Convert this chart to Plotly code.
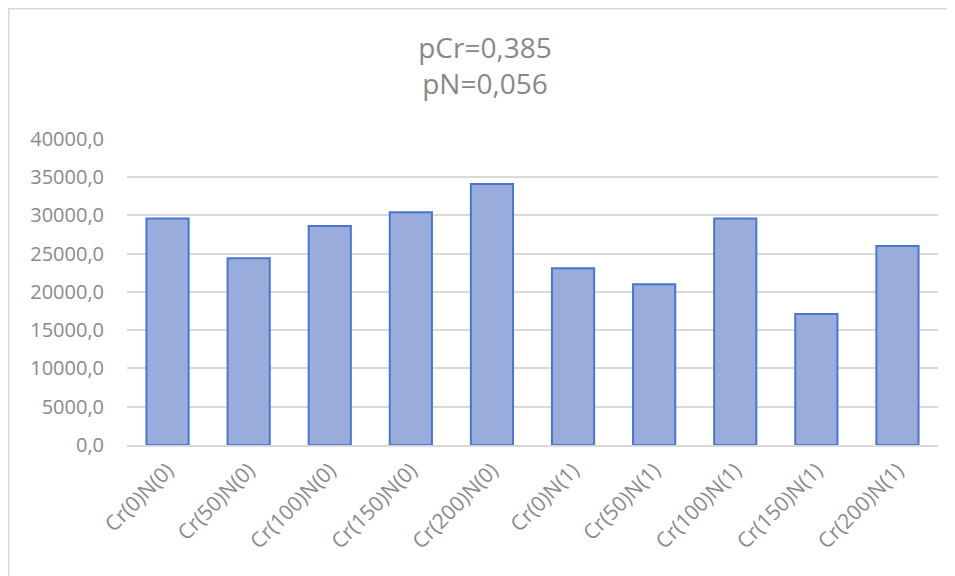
import plotly.graph_objects as go

categories = ["Cr(0)N(0)", "Cr(50)N(0)", "Cr(100)N(0)", "Cr(150)N(0)", "Cr(200)N(0)",
              "Cr(0)N(1)", "Cr(50)N(1)", "Cr(100)N(1)", "Cr(150)N(1)", "Cr(200)N(1)"]
values = [29600, 24400, 28600, 30400, 34100, 23100, 21000, 29600, 17100, 26000]
tick_vals = [0, 5000, 10000, 15000, 20000, 25000, 30000, 35000, 40000]
tick_text = ["0,0", "5000,0", "10000,0", "15000,0", "20000,0",
             "25000,0", "30000,0", "35000,0", "40000,0"]
title_lines = ["pCr=0,385", "pN=0,056"]

W, H = 947, 568
L, T = 119, 130
PW, PH = 811, 307

fig = go.Figure()
fig.add_trace(go.Bar(
    x=categories, y=values,
    marker=dict(color="#99acdb", line=dict(color="#4a76cd", width=2)),
))

fig.update_layout(
    width=W, height=H,
    margin=dict(l=L, r=W - L - PW, t=T, b=H - T - PH, pad=0),
    paper_bgcolor="white", plot_bgcolor="white",
    font=dict(family="Open Sans", color="#888888"),
    showlegend=False,
    bargap=0.48,
    title=dict(text="<br>".join(title_lines), x=(485 - 8) / W, xanchor="center",
               xref="container", yref="container", y=1 - 50 / H, yanchor="top",
               font=dict(size=28, color="#888888", family="Open Sans")),
    xaxis=dict(tickangle=-45, tickfont=dict(size=21, color="#8a8a8a"),
               showline=True, linecolor="#d9d9d9", linewidth=1.5,
               showgrid=False, ticks="", ticklabelstandoff=3),
    yaxis=dict(range=[0, 40100], tickvals=tick_vals, ticktext=tick_text,
               tickfont=dict(size=20, color="#8a8a8a"),
               showgrid=True, gridcolor="#d9d9d9", gridwidth=1.5,
               zeroline=False, showline=False, ticks="", ticklabelstandoff=22),
    shapes=[dict(type="rect", xref="paper", yref="paper",
                 x0=(0.75 - L) / PW, x1=1.5, y0=-0.8, y1=(PH + T - 0.75) / PH,
                 line=dict(color="#d9d9d9", width=1.5), fillcolor="rgba(0,0,0,0)",
                 layer="below")],
)

fig.write_html("out.html")
